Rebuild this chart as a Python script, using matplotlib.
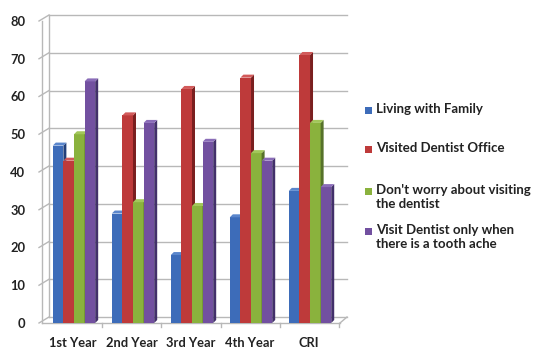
import matplotlib
matplotlib.use("Agg")
import matplotlib.pyplot as plt
from matplotlib.patches import Polygon, Rectangle
import numpy as np

plt.rcParams["font.family"] = ["Lato", "DejaVu Sans"]
plt.rcParams["font.weight"] = "bold"

years = ["1st Year", "2nd Year", "3rd Year", "4th Year", "CRI"]
series_names = [
    "Living with Family",
    "Visited Dentist Office",
    "Don't worry about visiting\nthe dentist",
    "Visit Dentist only when\nthere is a tooth ache",
]
living_with_family = [47, 29, 18, 28, 35]
visited_dentist = [43, 55, 62, 65, 71]
dont_worry = [50, 32, 31, 45, 53]
only_toothache = [64, 53, 48, 43, 36]
yticks = [0, 10, 20, 30, 40, 50, 60, 70, 80]

face_colors = ["#3d6cb9", "#be3a3a", "#8ab23d", "#7250a0"]
side_colors = ["#22407a", "#7a1f1f", "#56722a", "#42306a"]
top_colors = ["#5a86cc", "#d25a5a", "#a2c75a", "#8a6cb8"]
grid_col = "#b8b8b8"
text_col = "#222222"

W, H = 534, 350
fig = plt.figure(figsize=(W / 100, H / 100), dpi=100)
ax = fig.add_axes([42 / W, 1 - 323 / H, 298 / W, 302 / H])
xmin, xmax = -0.525, 4.525
ax.set_xlim(xmin, xmax)
ax.set_ylim(0, 80)
for s in ax.spines.values():
    s.set_visible(False)

# pixel -> data unit scale, for the fake depth
sx = (xmax - xmin) / 298.0
sy = 80.0 / 302.0
wall_dx, wall_dy = 7 * sx, 6 * sy
bar_dx, bar_dy = 3 * sx, 3 * sy

# back wall gridlines + left wall
for v in yticks:
    ax.plot([xmin + wall_dx, xmax + wall_dx], [v + wall_dy, v + wall_dy],
            color=grid_col, lw=1, clip_on=False, zorder=0)
    ax.plot([xmin - 3 * sx, xmin + wall_dx], [v, v + wall_dy],
            color=grid_col, lw=1, clip_on=False, zorder=0)
ax.plot([xmin + wall_dx] * 2, [wall_dy, 80 + wall_dy], color=grid_col, lw=1,
        clip_on=False, zorder=0)
ax.plot([xmin, xmin], [0, 80], color=grid_col, lw=1, clip_on=False, zorder=0)
# floor front edge, right corner and category ticks
ax.plot([xmin, xmax], [0, 0], color=grid_col, lw=1, clip_on=False, zorder=0)
ax.plot([xmax, xmax + wall_dx], [0, wall_dy], color=grid_col, lw=1,
        clip_on=False, zorder=0)
for b in np.arange(0.5, 4.6, 1.0):
    ax.plot([b, b], [0, -4 * sy], color=grid_col, lw=1, clip_on=False, zorder=0)

data = [living_with_family, visited_dentist, dont_worry, only_toothache]
x = np.arange(len(years))
w = 10.6 * sx
offsets = (np.arange(4) - 1.5) * w
for i, vals in enumerate(data):
    xs = x + offsets[i] + 1 * sx
    ax.bar(xs, vals, width=w, color=face_colors[i], zorder=2 + i, linewidth=0)
    for xc, v in zip(xs, vals):
        r = xc + w / 2
        l = xc - w / 2
        side = Polygon([(r, 0), (r + bar_dx, bar_dy), (r + bar_dx, v + bar_dy), (r, v)],
                       closed=True, facecolor=side_colors[i], lw=0, zorder=2 + i)
        top = Polygon([(l, v), (l + bar_dx, v + bar_dy), (r + bar_dx, v + bar_dy), (r, v)],
                      closed=True, facecolor=top_colors[i], lw=0, zorder=2 + i)
        ax.add_patch(side)
        ax.add_patch(top)

ax.set_yticks(yticks)
ax.set_yticklabels([str(v) for v in yticks], fontsize=9.3, fontweight="bold")
ax.set_xticks(x)
ax.set_xticklabels(years, fontsize=9.3, fontweight="bold")
ax.tick_params(axis="both", length=0, colors=text_col)
ax.tick_params(axis="y", pad=12)
ax.tick_params(axis="x", pad=10)

# legend: square key next to the first line of each entry
legend_rows = [110, 149, 191.5, 231.5]
for name, col, yrow in zip(series_names, face_colors, legend_rows):
    fig.patches.append(Rectangle((365 / W, 1 - (yrow + 3.5) / H), 7 / W, 7 / H,
                                 transform=fig.transFigure, facecolor=col,
                                 edgecolor="none"))
    fig.text(376 / W, 1 - (yrow - 7) / H, name, ha="left", va="top",
             fontsize=9.5, fontweight="bold", color=text_col, linespacing=1.15)

fig.savefig("out.png", dpi=100)
